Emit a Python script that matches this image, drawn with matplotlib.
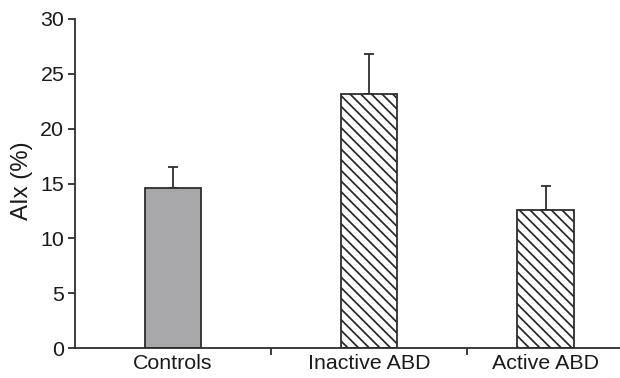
import numpy as np
import matplotlib.pyplot as plt

plt.rcParams['font.family'] = ['Liberation Sans', 'DejaVu Sans']

# data
groups = ['Controls', 'Inactive ABD', 'Active ABD']
aix_mean = [14.55, 23.2, 12.6]
aix_sem = [2.0, 3.65, 2.2]

# layout: bar centres and the separator ticks between groups
xpos = [0, 1, 1.9]
sep_ticks = [0.5, 1.5]

dark = '#2b2b2b'
dpi = 128
fig = plt.figure(figsize=(620 / dpi, 378 / dpi), dpi=dpi)
ax = fig.add_axes([75 / 620, 30 / 378, 1 - 75 / 620, 1 - 30 / 378 - 19 / 378])

fills = ['#a8a8aa', 'white', 'white']
hatches = ['', '\\\\\\\\', '\\\\\\\\']
plt.rcParams['hatch.linewidth'] = 1.0
plt.rcParams['hatch.color'] = dark

for x, m, c, h in zip(xpos, aix_mean, fills, hatches):
    ax.bar(x, m, width=0.29, color=c, hatch=h, edgecolor=dark,
           linewidth=1.0, zorder=2)

ax.errorbar(xpos, aix_mean, yerr=[np.zeros(3), aix_sem], fmt='none',
            ecolor=dark, elinewidth=1.0, capsize=2.8, capthick=1.0, zorder=1)

ax.set_xlim(-0.5, 2.28)
ax.set_ylim(0, 30)
ax.set_yticks(range(0, 31, 5))
ax.set_xticks(sep_ticks)
ax.set_xticklabels([])
ax.tick_params(axis='y', length=4, width=1.0, color=dark, labelsize=12, pad=2,
               labelcolor='#1a1a1a')
ax.tick_params(axis='x', length=4, width=1.0, color=dark)

for x, g in zip(xpos, groups):
    ax.text(x, -0.55, g, ha='center', va='top', fontsize=12, color='#1a1a1a')

ax.set_ylabel('AIx (%)', fontsize=13.5, color='#1a1a1a')
ax.yaxis.set_label_coords(-0.077, 0.508)

for s in ['top', 'right']:
    ax.spines[s].set_visible(False)
for s in ['left', 'bottom']:
    ax.spines[s].set_color(dark)
    ax.spines[s].set_linewidth(1.0)

fig.savefig('out.png', dpi=dpi)
